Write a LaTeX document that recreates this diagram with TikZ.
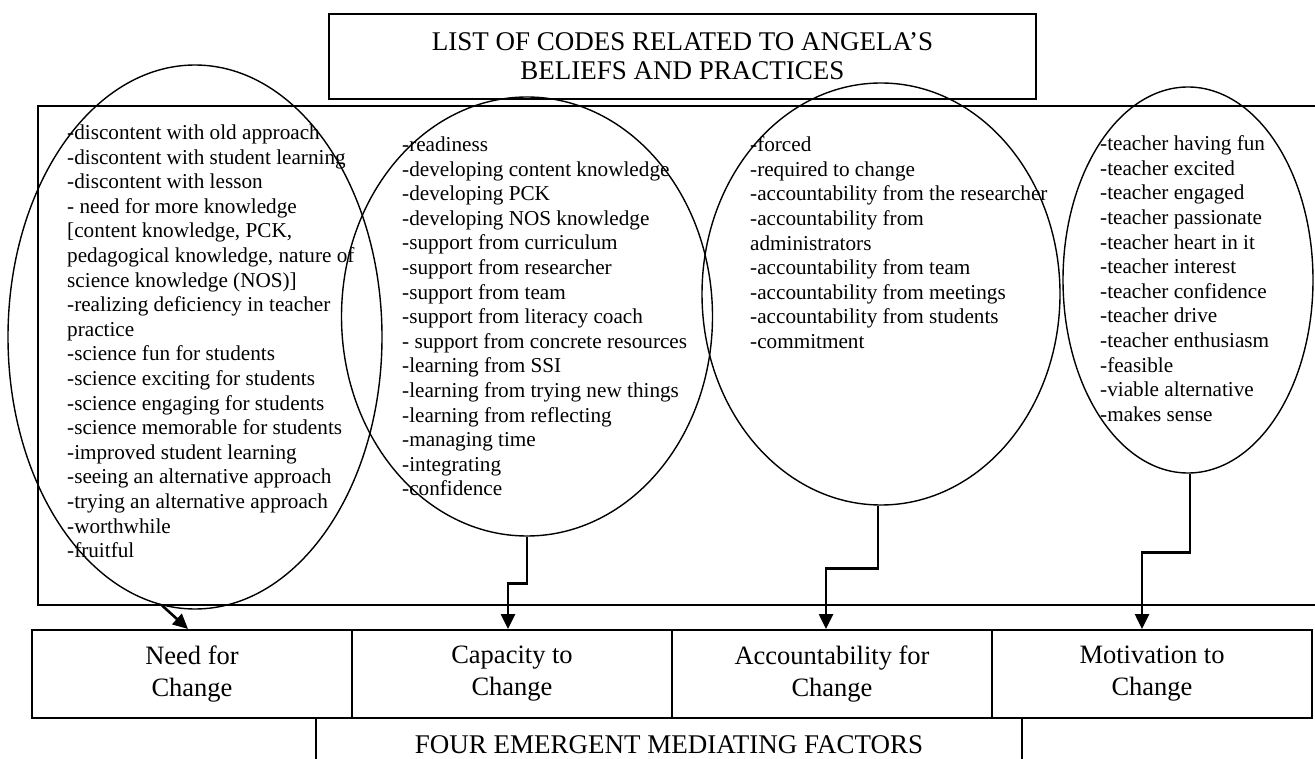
\documentclass[tikz,border=0pt]{standalone}
\usepackage{fontspec}
\setmainfont{Liberation Serif}
\usetikzlibrary{shapes.geometric,arrows.meta}
\begin{document}
\begin{tikzpicture}[x=1pt,y=-1pt,
  codes/.style={anchor=north west,inner sep=0pt,align=left,font={\fontsize{21.2}{24.6}\selectfont}},
  oval/.style={draw,ellipse,inner sep=0pt,line width=1.4pt},
  factor/.style={draw,line width=2pt,inner sep=0pt,minimum width=320pt,minimum height=88pt,align=center,font={\fontsize{26.5}{32}\selectfont}},
  link/.style={line width=2.6pt,-{Triangle[width=14pt,length=15pt]}}]
\useasboundingbox (0,0) rectangle (1315,759);
\clip (0,0) rectangle (1315,759);

%title box
\node[draw,line width=2pt,minimum width=707pt,minimum height=85pt,align=center,
  font={\fontsize{27}{29}\selectfont}] (title) at (682.5,56.5)
  {LIST OF CODES RELATED TO ANGELA’S\\BELIEFS AND PRACTICES};

%frame round the codes, open at the right
\draw[line width=2pt] (1320,106) -- (38,106) -- (38,605) -- (1320,605);

%code lists
\node[codes] (needcodes) at (67,124.5) {-discontent with old approach\\-discontent with student learning\\-discontent with lesson\\- need for more knowledge\\{[content knowledge, PCK,}\\pedagogical knowledge, nature of\\science knowledge (NOS)]\\-realizing deficiency in teacher\\practice\\-science fun for students\\-science exciting for students\\-science engaging for students\\-science memorable for students\\-improved student learning\\-seeing an alternative approach\\-trying an alternative approach\\-worthwhile\\-fruitful};
\node[codes] (capcodes) at (402,136.5) {-readiness\\-developing content knowledge\\-developing PCK\\-developing NOS knowledge\\-support from curriculum\\-support from researcher\\-support from team\\-support from literacy coach\\- support from concrete resources\\-learning from SSI\\-learning from trying new things\\-learning from reflecting\\-managing time\\-integrating\\-confidence};
\node[codes] (acccodes) at (750,136.5) {-forced\\-required to change\\-accountability from the researcher\\-accountability from\\administrators\\-accountability from team\\-accountability from meetings\\-accountability from students\\-commitment};
\node[codes] (motcodes) at (1100,135.5) {-teacher having fun\\-teacher excited\\-teacher engaged\\-teacher passionate\\-teacher heart in it\\-teacher interest\\-teacher confidence\\-teacher drive\\-teacher enthusiasm\\-feasible\\-viable alternative\\-makes sense};

%ovals round the lists
\node[oval,minimum width=374pt,minimum height=544pt] (needoval) at (195,337) {};
\node[oval,minimum width=371pt,minimum height=439pt] (capoval) at (527,316.5) {};
\node[oval,minimum width=358pt,minimum height=422pt] (accoval) at (881,294) {};
\node[oval,minimum width=250pt,minimum height=386pt] (motoval) at (1188,280) {};

%the four factors
\node[factor] (need) at (192,674) {Need for\\Change};
\node[factor] (cap) at (512,674) {Capacity to\\Change};
\node[factor] (acc) at (832,674) {Accountability for\\Change};
\node[factor] (mot) at (1152,674) {Motivation to\\Change};

%label under the factors
\draw[line width=2pt] (316,770) |- (1022,718) -- (1022,770);
\node[anchor=base,inner sep=0pt,font={\fontsize{27}{29}\selectfont}] (factors) at (669,753) {FOUR EMERGENT MEDIATING FACTORS};

%connectors from ovals to factors
\draw[link] (needoval.263) -- ([xshift=-4pt]need.north);
\draw[link] (capoval.south) -- ++(0,47) -| ([xshift=-4pt]cap.north);
\draw[link] ([xshift=-3pt]accoval.south) -- ++(0,63) -| ([xshift=-6pt]acc.north);
\draw[link] ([xshift=2pt]motoval.south) -- ++(0,79) -| ([xshift=-10pt]mot.north);
\end{tikzpicture}
\end{document}
